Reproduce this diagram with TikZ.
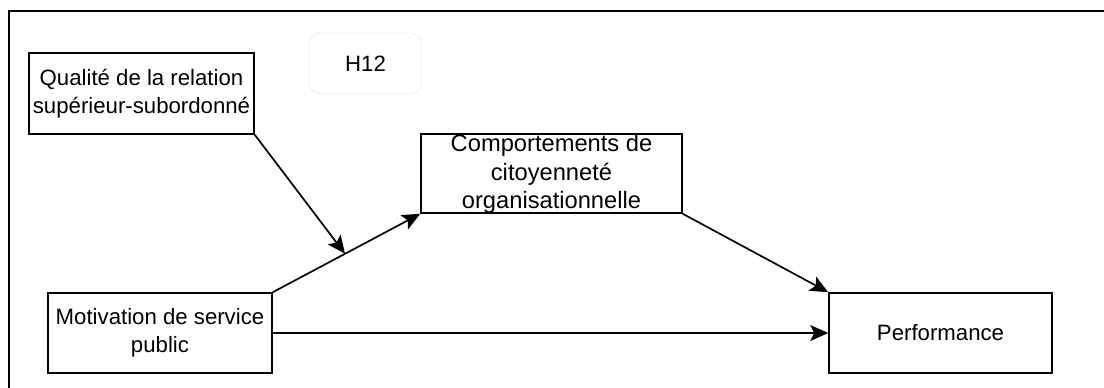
\documentclass[tikz,border=0pt]{standalone}
\usepackage{fontspec}
\setmainfont{Liberation Sans}
\usetikzlibrary{arrows.meta,calc}
\begin{document}
\begin{tikzpicture}[x=1pt,y=-1pt,
  box/.style={draw=black, line width=1.6pt, rectangle, inner sep=0pt, align=center,
    font=\fontsize{22.2}{28.5}\selectfont},
  lbl/.style={inner sep=0pt, align=center, font=\fontsize{22.2}{28.5}\selectfont},
  arr/.style={line width=1.7pt, -{Stealth[length=18pt, width=16pt, inset=4pt]}},
  frame/.style={line width=2.4pt}]
\useasboundingbox (0,0) rectangle (1104,388);
\draw[frame] (9,388) -- (9,11) -- (1104,11);
\node[box, minimum width=225pt, minimum height=81pt] (q) at (141.5,93.5)
  {Qualité de la relation\\supérieur-subordonné};
\node[draw=black!7, line width=0.8pt, rounded corners=12pt, minimum width=113pt, minimum height=61pt, lbl] (h) at (365.5,63.5) {H12};
\node[box, minimum width=261pt, minimum height=79pt] (c) at (551.5,173.5) {};
\node[lbl, font=\fontsize{23.7}{28.5}\selectfont] (ct) at (551.5,174) {Comportements de\\citoyenneté\\organisationnelle};
\node[box, minimum width=224pt, minimum height=80pt] (m) at (160,333)
  {Motivation de service\\public};
\node[box, minimum width=223pt, minimum height=80pt] (p) at (940.5,333)
  {Performance};
\coordinate (mid) at ($(m.north east)!0.49!(c.south west)$);
\draw[arr] (m.north east) -- (c.south west);
\draw[arr] (q.south east) -- (mid);
\draw[arr] (c.south east) -- (p.north west);
\draw[arr] (m.east) -- (p.west);
\end{tikzpicture}
\end{document}
